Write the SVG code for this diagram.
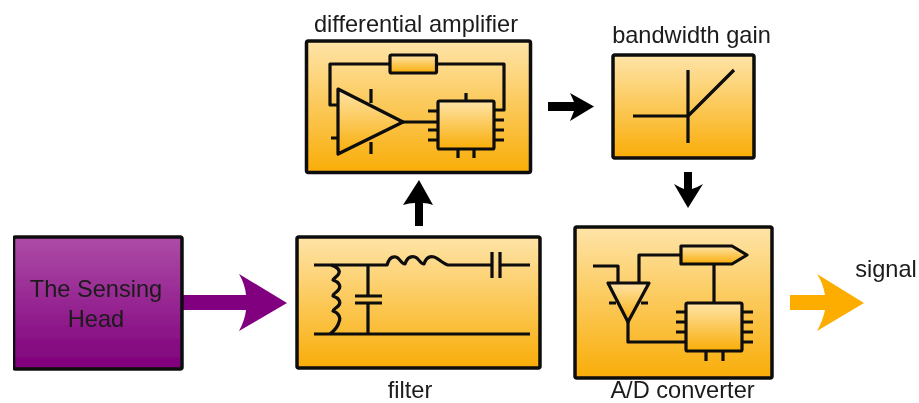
<svg xmlns="http://www.w3.org/2000/svg" width="919" height="403" viewBox="0 0 919 403">
<style>
.box{fill:url(#og);stroke:#0a0a0a;stroke-width:3.5;stroke-linejoin:round}
.hb{fill:url(#pg);stroke:#0a0a0a;stroke-width:3.5;stroke-linejoin:round}
.w{fill:none;stroke:#0a0a0a;stroke-width:3.2;stroke-linejoin:round}
.p{fill:url(#og);stroke:#0a0a0a;stroke-width:3.2;stroke-linejoin:round}
text{font-family:"Liberation Sans",Arial,sans-serif;font-size:23.6px;fill:#1a1a1a;text-anchor:middle}
</style>
<defs>
<linearGradient id="og" x1="0" y1="0" x2="0" y2="1"><stop offset="0" stop-color="#fee4a8"/><stop offset="1" stop-color="#f9ad08"/></linearGradient>
<linearGradient id="pg" x1="0" y1="0" x2="0" y2="1"><stop offset="0" stop-color="#ad4ca7"/><stop offset="1" stop-color="#7f007c"/></linearGradient>
<filter id="soft" x="0" y="0" width="1" height="1"><feGaussianBlur stdDeviation="0.45"/></filter>
</defs>
<g filter="url(#soft)">
<g id="connectors">
<path fill="#800080" d="M182 295H246Q245 284 239 274L287 303L239 331Q245 320 246 310H182Z"/>
<path fill="#000" d="M415 226V203Q409 203 403 205L419 180L433 205Q428 203 423 203V226Z"/>
<path fill="#000" d="M548 102H574Q572 97 570 93L594 106.500L570 121Q572 116 574 111H548Z"/>
<path fill="#000" d="M684 172H692V189Q698 187 703 184L688 208L674 184Q679 187 684 189Z"/>
<path fill="#fdad02" d="M790 295H825Q823 283 817 274L864 303L817 331Q823 320 825 310H790Z"/>
</g>
<g id="sensing-head">
<rect class="hb" x="13.500" y="237" width="168.500" height="132" rx="2"/>
<text x="96" y="297">The Sensing</text>
<text x="96" y="327">Head</text>
</g>
<g id="filter">
<rect class="box" x="297" y="237" width="243" height="131" rx="2"/>
<path class="w" d="M314 265H387C389 258 392 256 396 257C400 258 401 264 405 264C407 258 411 256 415 257C419 258 420 264 424 264C426 258 430 256 434 257C438 258 443 264 448 265H492M500 265H530M314 334H530M368 265V296M368 303V334M355 296H382M355 303H382M492 252V278M500 252V278"/>
<path class="w" d="M331 265C337 267 340 270 339 273C338 277 333 278 333 280C339 282 341 286 339 289C337 293 333 293 333 296C339 298 341 302 339 305C337 308 333 309 333 311C339 313 341 318 339 322C338 326 334 331 330 334"/>
</g>
<g id="differential-amplifier">
<rect class="box" x="306.500" y="41" width="224" height="131.500" rx="2"/>
<path class="w" d="M390 64H330V105H338M436 64H504V110H494M371 89V103M371 142V154M331 138H338M403 122H428M428 111H438M428 122H438M428 130H438M428 140H438M494 120H504M494 130H504M494 140H504M466 93V101M458 149V158M474 149V158"/>
<rect class="p" x="390" y="55" width="46.500" height="18" rx="1.500"/>
<path class="p" d="M338 89L403 122L338 154Z"/>
<rect class="p" x="438" y="101" width="56" height="48" rx="1.500"/>
</g>
<g id="bandwidth-gain">
<rect class="box" x="613" y="55" width="141" height="103" rx="2"/>
<path class="w" d="M688 70V143M633 116H688L734 70"/>
</g>
<g id="ad-converter">
<rect class="box" x="575" y="227" width="197" height="151" rx="2"/>
<path class="w" d="M593 266H618V283M639 283V255H681M714 264V303M609 303H616M641 303H648M628 322V342H686M676 312H686M676 322H686M676 332H686M742 312H753M742 322H753M742 332H753M742 342H753M706 351V361M723 351V361"/>
<path class="p" d="M681 246H732L747 255L732 264H681Z"/>
<path class="p" d="M608 283H649L628 322Z"/>
<rect class="p" x="686" y="303" width="56" height="48" rx="1.500"/>
</g>
<g id="labels">
<text x="416" y="32">differential amplifier</text>
<text x="691.500" y="43">bandwidth gain</text>
<text x="410" y="398">filter</text>
<text x="682.500" y="398">A/D converter</text>
<text x="886" y="277">signal</text>
</g>
</g>
</svg>
